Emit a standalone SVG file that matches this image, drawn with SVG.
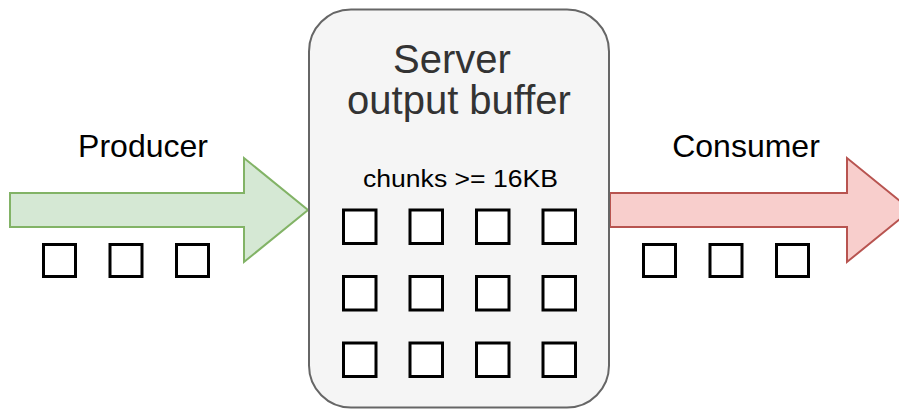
<svg xmlns="http://www.w3.org/2000/svg" width="899" height="410" viewBox="0 0 899 410">
  <style>
    .lbl { font-family: "Liberation Sans", Arial, Helvetica, sans-serif; fill: #000000; }
    .big { font-family: "Liberation Sans", Arial, Helvetica, sans-serif; fill: #333333; font-size: 40px; text-anchor: middle; }
    .chunk { fill: #ffffff; stroke: #000000; stroke-width: 3; }
    .box { fill: #f5f5f5; stroke: #666666; stroke-width: 2; }
    .green { fill: #d5e8d4; stroke: #82b366; stroke-width: 2; stroke-linejoin: miter; }
    .red { fill: #f8cecc; stroke: #b85450; stroke-width: 2; stroke-linejoin: miter; }
  </style>
  <rect width="899" height="410" fill="#ffffff"/>

  <g id="connectors">
    <path class="green" d="M10,193 H244 V158 L308,210 L244,262 V227 H10 Z"/>
    <path class="red" d="M610,193 H847 V158 L911,210 L847,262 V227 H610 Z"/>
  </g>

  <g id="producer">
    <text class="lbl" x="143" y="157" font-size="32" text-anchor="middle">Producer</text>
    <rect class="chunk" x="43.5" y="244.5" width="32" height="32"/>
    <rect class="chunk" x="110" y="244.5" width="32" height="32"/>
    <rect class="chunk" x="176.5" y="244.5" width="32" height="32"/>
  </g>

  <g id="server">
    <rect class="box" x="309" y="9.5" width="300" height="398" rx="42" ry="42"/>
    <text class="big" x="452" y="73">Server</text>
    <text class="big" x="459" y="114">output buffer</text>
    <text class="lbl" x="363" y="187" font-size="23" textLength="195" lengthAdjust="spacingAndGlyphs">chunks &gt;= 16KB</text>
    <g>
      <rect class="chunk" x="343.5" y="210" width="32.5" height="33.5"/>
      <rect class="chunk" x="410" y="210" width="32.5" height="33.5"/>
      <rect class="chunk" x="476.5" y="210" width="32.5" height="33.5"/>
      <rect class="chunk" x="543" y="210" width="32.5" height="33.5"/>
      <rect class="chunk" x="343.5" y="276.5" width="32.5" height="33.5"/>
      <rect class="chunk" x="410" y="276.5" width="32.5" height="33.5"/>
      <rect class="chunk" x="476.5" y="276.5" width="32.5" height="33.5"/>
      <rect class="chunk" x="543" y="276.5" width="32.5" height="33.5"/>
      <rect class="chunk" x="343.5" y="343" width="32.5" height="33.5"/>
      <rect class="chunk" x="410" y="343" width="32.5" height="33.5"/>
      <rect class="chunk" x="476.5" y="343" width="32.5" height="33.5"/>
      <rect class="chunk" x="543" y="343" width="32.5" height="33.5"/>
    </g>
  </g>

  <g id="consumer">
    <text class="lbl" x="746" y="157" font-size="32" text-anchor="middle">Consumer</text>
    <rect class="chunk" x="643.5" y="244.5" width="32" height="32"/>
    <rect class="chunk" x="710" y="244.5" width="32" height="32"/>
    <rect class="chunk" x="776.5" y="244.5" width="32" height="32"/>
  </g>
</svg>
